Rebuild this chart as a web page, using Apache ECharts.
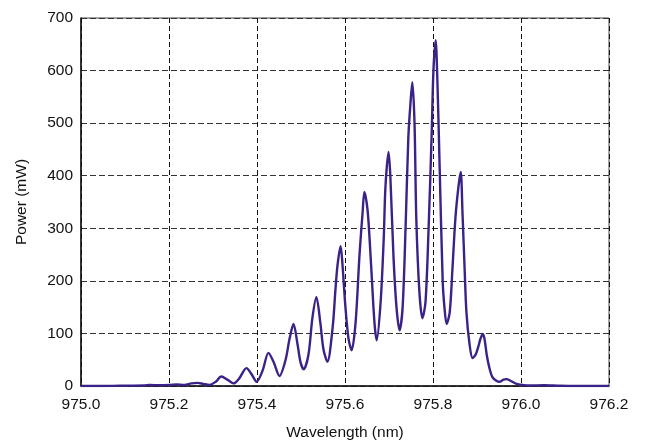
<!DOCTYPE html>
<html>
<head>
<meta charset="utf-8">
<script src="https://cdn.jsdelivr.net/npm/echarts@6/dist/echarts.min.js"></script>
<style>
  html, body { margin: 0; padding: 0; background: #fff; }
  #main { width: 648px; height: 441px; }
</style>
</head>
<body>
<div id="main"></div>
<script>
var wavelength = [
  975.000, 975.042, 975.088, 975.144, 975.156, 975.178, 975.201, 975.217, 975.235, 975.251,
  975.265, 975.278, 975.292, 975.306, 975.319, 975.333, 975.347, 975.360, 975.376, 975.388,
  975.399, 975.413, 975.426, 975.438, 975.451, 975.465, 975.474, 975.483, 975.492, 975.499,
  975.506, 975.517, 975.526, 975.535, 975.544, 975.551, 975.560, 975.572, 975.578, 975.583,
  975.590, 975.594, 975.601, 975.608, 975.615, 975.624, 975.633, 975.640, 975.644, 975.649,
  975.653, 975.660, 975.667, 975.672, 975.681, 975.688, 975.692, 975.699, 975.703, 975.710,
  975.717, 975.724, 975.731, 975.738, 975.744, 975.749, 975.753, 975.758, 975.762, 975.769,
  975.776, 975.783, 975.790, 975.797, 975.801, 975.806, 975.810, 975.815, 975.822, 975.826,
  975.831, 975.838, 975.844, 975.851, 975.858, 975.863, 975.867, 975.872, 975.876, 975.883,
  975.890, 975.897, 975.903, 975.908, 975.913, 975.917, 975.922, 975.928, 975.935, 975.944,
  975.951, 975.960, 975.967, 975.976, 975.990, 976.003, 976.019, 976.053, 976.088, 976.122,
  976.200
];
var power = [
  0, 0, 0.5, 1, 2, 1.5, 2, 3, 2, 5,
  6, 4, 2, 8, 18, 12, 5, 15, 34, 22,
  8, 30, 63, 45, 19, 50, 90, 118, 80, 45,
  32, 60, 130, 169, 120, 70, 46, 112, 180, 230,
  266, 234, 150, 90, 68, 120, 250, 330, 369, 350,
  318, 220, 120, 87, 160, 280, 380, 445, 400, 250,
  150, 106, 150, 310, 474, 540, 578, 500, 320, 180,
  129, 160, 300, 480, 600, 658, 580, 420, 200, 150,
  118, 140, 220, 320, 380, 407, 330, 220, 140, 80,
  53, 60, 75, 90, 99, 90, 60, 35, 17, 10,
  8, 12, 13, 10, 4, 2, 1, 1.5, 0.5, 0,
  0
];
var xTicks = [975.0, 975.2, 975.4, 975.6, 975.8, 976.0, 976.2];
var yTicks = [0, 100, 200, 300, 400, 500, 600, 700];

var points = wavelength.map(function (w, i) { return [w, power[i]]; });

var chart = echarts.init(document.getElementById('main'));
var font = '"Liberation Sans", Arial, sans-serif';

chart.setOption({
  animation: false,
  grid: {
    left: 81, right: 39, top: 18, bottom: 55,
    outerBoundsMode: 'none',
    show: true, borderColor: '#444', borderWidth: 1
  },
  xAxis: {
    type: 'value',
    min: xTicks[0],
    max: xTicks[xTicks.length - 1],
    interval: 0.2,
    name: 'Wavelength (nm)',
    nameLocation: 'middle',
    nameGap: 39,
    nameTextStyle: { fontFamily: font, fontSize: 15.5, color: '#111' },
    axisLine: { lineStyle: { color: '#111', width: 1.5 } },
    axisTick: { show: false },
    axisLabel: {
      fontFamily: font, fontSize: 15.5, color: '#111', margin: 11,
      formatter: function (v) { return v.toFixed(1); }
    },
    splitLine: { show: true, lineStyle: { color: '#111', type: [5, 3], width: 1 } }
  },
  yAxis: {
    type: 'value',
    min: yTicks[0],
    max: yTicks[yTicks.length - 1],
    interval: 100,
    name: 'Power (mW)',
    nameLocation: 'middle',
    nameGap: 51,
    nameTextStyle: { fontFamily: font, fontSize: 15.5, color: '#111' },
    axisLine: { show: true, lineStyle: { color: '#111', width: 1.5 } },
    axisTick: { show: false },
    axisLabel: { fontFamily: font, fontSize: 15.5, color: '#111', margin: 8 },
    splitLine: { show: true, lineStyle: { color: '#333', type: [6, 3], width: 1 } }
  },
  series: [{
    type: 'line',
    data: points,
    showSymbol: false,
    smooth: 0.3,
    lineStyle: { color: '#3b2289', width: 2.4 }
  }]
});
</script>
</body>
</html>
